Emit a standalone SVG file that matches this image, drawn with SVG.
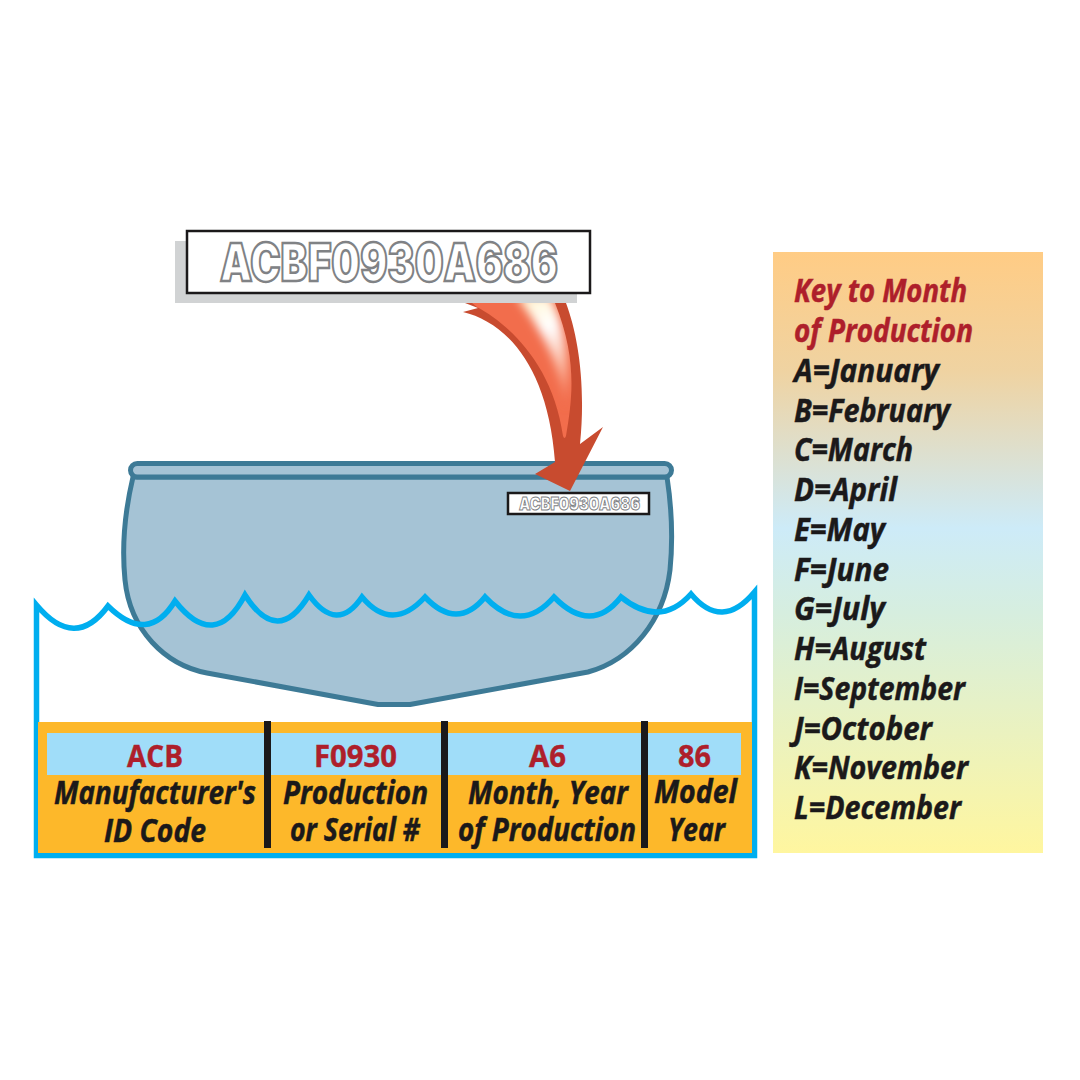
<svg xmlns="http://www.w3.org/2000/svg" width="1080" height="1080" viewBox="0 0 1080 1080">
  <defs>
    <linearGradient id="keyFill" x1="0" y1="0" x2="0" y2="1">
      <stop offset="0" stop-color="#FFCC85"/>
      <stop offset="0.2" stop-color="#EFD3A2"/>
      <stop offset="0.46" stop-color="#CDEBF8"/>
      <stop offset="0.6" stop-color="#D6EEDF"/>
      <stop offset="1" stop-color="#FFF69F"/>
    </linearGradient>
    <linearGradient id="streakFill" gradientUnits="userSpaceOnUse" x1="520" y1="303" x2="566" y2="405">
      <stop offset="0" stop-color="#FFF6D6"/>
      <stop offset="0.3" stop-color="#FFFFFF"/>
      <stop offset="0.65" stop-color="#FBB9A2"/>
      <stop offset="1" stop-color="#F26D4C"/>
    </linearGradient>
    <filter id="soften" x="-40%" y="-20%" width="180%" height="140%">
      <feGaussianBlur stdDeviation="5"/>
    </filter>
    <clipPath id="glowClip">
      <path d="M472,303 L477,307 C510,325 553,365 563,436 Q564.500,440 566,436 C572,400 578,360 555,303 Z"/>
    </clipPath>
  </defs>
  <style>
    text { font-family: "Open Sans", "Noto Sans", "Liberation Sans", sans-serif; font-weight: 700; }
    .label { font-size: 32px; font-style: italic; fill: #1B191A; stroke: #1B191A; stroke-width: 0.5px; }
    .code { font-size: 30px; fill: #AE1F2B; stroke: #AE1F2B; stroke-width: 0.4px; }
    .key { font-size: 32px; font-style: italic; fill: #1B191A; stroke: #1B191A; stroke-width: 0.5px; }
    .keyhead { font-size: 32px; font-style: italic; fill: #AE1F2B; stroke: #AE1F2B; stroke-width: 0.5px; }
    .serial { font-family: Inter, "DejaVu Sans", "Liberation Sans", sans-serif; font-weight: 900; fill: #FFFFFF; stroke: #808285; }
  </style>
  <rect width="1080" height="1080" fill="#FFFFFF"/>

  <!-- hull and rim of the boat -->
  <g id="boat">
    <path d="M133,477 C124,515 122,550 125,580 C130,630 165,665 207,673 L378,704.500 H410 L588,672 C632,660 664,620 670,570 C673,540 672,510 667,477 Z" fill="#A5C3D5" stroke="#3D7A96" stroke-width="5" stroke-linejoin="round"/>
    <rect x="130.500" y="463.500" width="541" height="13.500" rx="6.700" fill="#A5C3D5" stroke="#3D7A96" stroke-width="5"/>
  </g>

  <!-- water surface and tank walls -->
  <g id="water">
    <path d="M36.500,605 Q75,651 108,606 Q148,645.500 175,601 Q215,652 245,595 Q278,647 309,595 Q337,634 362,597 Q392,633 425,597 Q457,631 485,597 Q521,635 554,597 Q591,635 621,597 Q660,628.500 691,594 Q722,631 754.500,592 V855.500 H36.500 Z" fill="none" stroke="#00AEEF" stroke-width="5.500" stroke-miterlimit="12"/>
  </g>

  <!-- decoded table below the waterline -->
  <g id="code-table">
    <rect x="38" y="722" width="714" height="131" fill="#FDB82A"/>
    <rect x="47" y="733" width="694" height="42" fill="#A0DDF9"/>
    <rect x="264" y="721" width="7" height="127" fill="#1B191A"/>
    <rect x="441" y="721" width="7" height="127" fill="#1B191A"/>
    <rect x="641" y="721" width="7" height="127" fill="#1B191A"/>
  </g>
  <g id="segment-manufacturer">
    <text class="code" x="127" y="767" textLength="56" lengthAdjust="spacingAndGlyphs">ACB</text>
    <text class="label" x="54" y="804" textLength="202" lengthAdjust="spacingAndGlyphs">Manufacturer's</text>
    <text class="label" x="104" y="842" textLength="102" lengthAdjust="spacingAndGlyphs">ID Code</text>
  </g>
  <g id="segment-serial">
    <text class="code" x="314" y="767" textLength="83" lengthAdjust="spacingAndGlyphs">F0930</text>
    <text class="label" x="283" y="804" textLength="145" lengthAdjust="spacingAndGlyphs">Production</text>
    <text class="label" x="290" y="841" textLength="130" lengthAdjust="spacingAndGlyphs">or Serial #</text>
  </g>
  <g id="segment-month-year">
    <text class="code" x="529" y="767" textLength="37" lengthAdjust="spacingAndGlyphs">A6</text>
    <text class="label" x="468" y="804" textLength="160" lengthAdjust="spacingAndGlyphs">Month, Year</text>
    <text class="label" x="458" y="841" textLength="178" lengthAdjust="spacingAndGlyphs">of Production</text>
  </g>
  <g id="segment-model-year">
    <text class="code" x="678" y="767" textLength="33" lengthAdjust="spacingAndGlyphs">86</text>
    <text class="label" x="654" y="803" textLength="83" lengthAdjust="spacingAndGlyphs">Model</text>
    <text class="label" x="668" y="841" textLength="57" lengthAdjust="spacingAndGlyphs">Year</text>
  </g>

  <!-- curved arrow from the enlarged serial plate to the small one -->
  <g id="connectors">
    <path d="M465,303 L566,303 C578,335 586,385 580,444 L603,427 L570,491 L535,474 L555,462 C548,365 505,322 463,312 L478,308 Z" fill="#C84B2F"/>
    <g clip-path="url(#glowClip)">
      <rect x="465" y="300" width="115" height="145" fill="#F26D4C"/>
      <path d="M516,296 L550,296 C567,330 571,370 566,410 C561,370 546,335 516,296 Z" fill="url(#streakFill)" filter="url(#soften)"/>
    </g>
  </g>

  <!-- enlarged serial plate -->
  <g id="serial-plate">
    <rect x="175" y="241" width="402" height="62" fill="#D1D3D4"/>
    <rect x="187" y="231" width="403" height="62" fill="#FFFFFF" stroke="#1B191A" stroke-width="2.500"/>
    <text class="serial" x="220" y="281" font-size="52" stroke-width="2.500" textLength="338" lengthAdjust="spacingAndGlyphs">ACBF0930A686</text>
  </g>

  <!-- small serial plate on the hull -->
  <g id="serial-plate-small">
    <rect x="508" y="493" width="141" height="21" fill="#FFFFFF" stroke="#1B191A" stroke-width="2.500"/>
    <text class="serial" x="519" y="510" font-size="18" stroke-width="1" textLength="121" lengthAdjust="spacingAndGlyphs">ACBF0930A686</text>
  </g>

  <!-- month letter key -->
  <g id="month-key">
    <rect x="773" y="252" width="270" height="601" fill="url(#keyFill)"/>
    <text class="keyhead" x="794" y="302" textLength="173" lengthAdjust="spacingAndGlyphs">Key to Month</text>
    <text class="keyhead" x="794" y="342" textLength="179" lengthAdjust="spacingAndGlyphs">of Production</text>
    <text class="key" x="794" y="382" textLength="145" lengthAdjust="spacingAndGlyphs">A=January</text>
    <text class="key" x="794" y="422" textLength="156" lengthAdjust="spacingAndGlyphs">B=February</text>
    <text class="key" x="794" y="461" textLength="119" lengthAdjust="spacingAndGlyphs">C=March</text>
    <text class="key" x="794" y="501" textLength="103" lengthAdjust="spacingAndGlyphs">D=April</text>
    <text class="key" x="794" y="541" textLength="91" lengthAdjust="spacingAndGlyphs">E=May</text>
    <text class="key" x="794" y="581" textLength="95" lengthAdjust="spacingAndGlyphs">F=June</text>
    <text class="key" x="794" y="620" textLength="91" lengthAdjust="spacingAndGlyphs">G=July</text>
    <text class="key" x="794" y="660" textLength="132" lengthAdjust="spacingAndGlyphs">H=August</text>
    <text class="key" x="794" y="700" textLength="171" lengthAdjust="spacingAndGlyphs">I=September</text>
    <text class="key" x="794" y="740" textLength="138" lengthAdjust="spacingAndGlyphs">J=October</text>
    <text class="key" x="794" y="779" textLength="174" lengthAdjust="spacingAndGlyphs">K=November</text>
    <text class="key" x="794" y="819" textLength="167" lengthAdjust="spacingAndGlyphs">L=December</text>
  </g>
</svg>
